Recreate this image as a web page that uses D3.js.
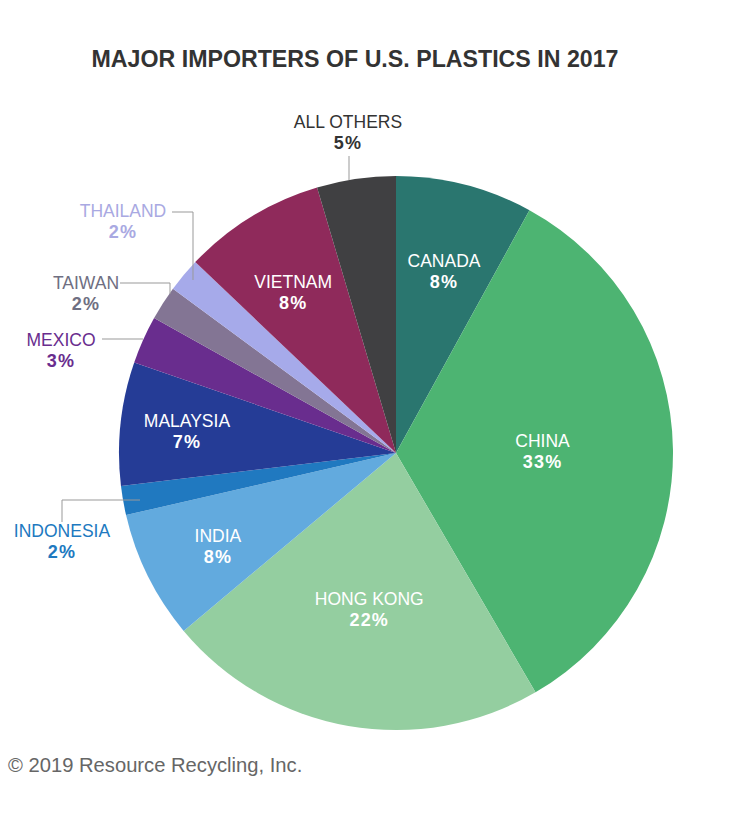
<!DOCTYPE html>
<html><head><meta charset="utf-8">
<script src="https://cdn.jsdelivr.net/npm/d3@7"></script>
<style>
html,body{margin:0;padding:0;background:#fff;}
svg{display:block;font-family:"Liberation Sans",Arial,Helvetica,sans-serif;}
</style></head>
<body><svg id="c" width="750" height="827"></svg>
<script>
// Data (share of U.S. plastic scrap exports, 2017)
const categories = ["CANADA","CHINA","HONG KONG","INDIA","INDONESIA","MALAYSIA","MEXICO","TAIWAN","THAILAND","VIETNAM","ALL OTHERS"];
const values     = [8.0, 33.6, 22.3, 7.5, 1.7, 7.2, 2.8, 2.0, 2.0, 8.3, 4.6];
const pctLabels  = ["8%","33%","22%","8%","2%","7%","3%","2%","2%","8%","5%"];
const colors     = ["#2a766f","#4db472","#94cea0","#62aade","#2079c0","#253c96","#692d8e","#837594","#a6aaea","#8f2a5b","#404042"];

const svg = d3.select("#c");
const cx = 396, cy = 453, R = 277;

svg.append("text").attr("x",355).attr("y",67).attr("text-anchor","middle")
  .attr("font-size",23.2).attr("font-weight","bold").attr("fill","#333")
  .text("MAJOR IMPORTERS OF U.S. PLASTICS IN 2017");

const pie = d3.pie().sort(null).value(d=>d.v).startAngle(0).endAngle(2*Math.PI);
const data = categories.map((c,i)=>({c, v:values[i], p:pctLabels[i], col:colors[i]}));
const arcs = pie(data);
const arc = d3.arc().innerRadius(0).outerRadius(R);

const g = svg.append("g").attr("transform",`translate(${cx},${cy})`);
g.selectAll("path").data(arcs).join("path").attr("d",arc).attr("fill",d=>d.data.col);

// inside labels: [radius from centre, angular shift in degrees from slice middle]
const insideL = {"CANADA":[182,0.9],"CHINA":[146.6,2.2],"HONG KONG":[163.7,-0.5],"INDIA":[203.7,-2.6],"MALAYSIA":[209.7,-1.65],"VIETNAM":[186,-2.05]};
arcs.forEach(a=>{
  const L = insideL[a.data.c];
  if(!L) return;
  const m = (a.startAngle+a.endAngle)/2 + L[1]*Math.PI/180;
  const x = L[0]*Math.sin(m), y = -L[0]*Math.cos(m);
  const t = g.append("text").attr("text-anchor","middle").attr("fill","#fff").attr("font-size",17.5);
  t.append("tspan").attr("x",x).attr("y",y-10).text(a.data.c);
  t.append("tspan").attr("x",x).attr("y",y+11).attr("font-weight","bold").attr("font-size",18).attr("letter-spacing",1.2).text(a.data.p);
});

// outside labels with leader lines (absolute page positions)
const outside = {
  "ALL OTHERS":{x:348,y:128,col:"#333",line:[[349,156],[349,180]]},
  "THAILAND":{x:123,y:217,col:"#a9a9e2",line:[[172,212],[193,212],[193,280]]},
  "TAIWAN":{x:86,y:289,col:"#6f6f82",line:[[120,283],[170,283],[170,294]]},
  "MEXICO":{x:61,y:346,col:"#692d8e",line:[[102,339],[143,339]]},
  "INDONESIA":{x:62,y:537,col:"#2079c0",line:[[62,522],[62,500],[140,500]]}
};
const line = d3.line();
arcs.forEach(a=>{
  const o = outside[a.data.c];
  if(!o) return;
  svg.append("path").attr("d",line(o.line)).attr("fill","none").attr("stroke","#999").attr("stroke-width",1);
  const t = svg.append("text").attr("text-anchor","middle").attr("fill",o.col).attr("font-size",17.5);
  t.append("tspan").attr("x",o.x).attr("y",o.y).text(a.data.c);
  t.append("tspan").attr("x",o.x).attr("y",o.y+21).attr("font-weight","bold").attr("font-size",18).attr("letter-spacing",1.2).text(a.data.p);
});

svg.append("text").attr("x",8).attr("y",772).attr("font-size",20.2).attr("fill","#666")
  .text("\u00a9 2019 Resource Recycling, Inc.");
</script></body></html>
